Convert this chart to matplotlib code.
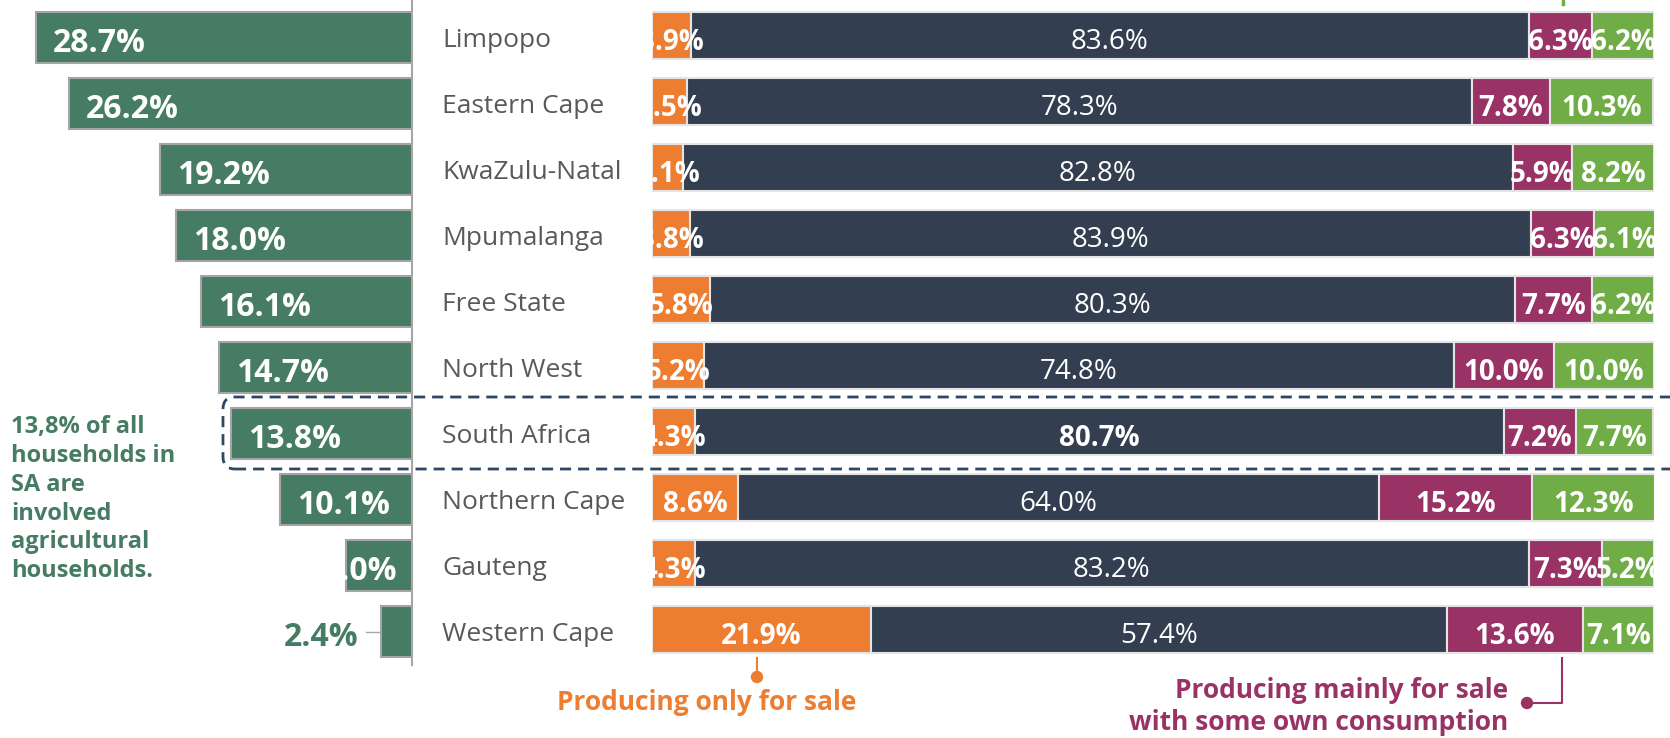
import matplotlib.pyplot as plt
import numpy as np
from matplotlib.patches import FancyBboxPatch, Circle
from matplotlib.lines import Line2D

plt.rcParams["font.family"] = ["Open Sans", "DejaVu Sans"]

provinces = ["Limpopo", "Eastern Cape", "KwaZulu-Natal", "Mpumalanga", "Free State",
             "North West", "South Africa", "Northern Cape", "Gauteng", "Western Cape"]
agri_share = [28.7, 26.2, 19.2, 18.0, 16.1, 14.7, 13.8, 10.1, 5.0, 2.4]
only_sale = [3.9, 3.5, 3.1, 3.8, 5.8, 5.2, 4.3, 8.6, 4.3, 21.9]
only_own = [83.6, 78.3, 82.8, 83.9, 80.3, 74.8, 80.7, 64.0, 83.2, 57.4]
mainly_sale = [6.3, 7.8, 5.9, 6.3, 7.7, 10.0, 7.2, 15.2, 7.3, 13.6]
mainly_own = [6.2, 10.3, 8.2, 6.1, 6.2, 10.0, 7.7, 12.3, 5.2, 7.1]
national = "South Africa"

GREEN_DK = "#477C64"
ORANGE = "#ED7D31"
NAVY = "#333F50"
MAGENTA = "#993366"
GREEN = "#70AD47"
TEXT_GREY = "#595959"
BOX_LINE = "#2E4662"

W, H = 1670, 738
ROW = 66.0  # row pitch in pixels
fig = plt.figure(figsize=(W / 100, H / 100), dpi=100)


def px_box(x0, y0, x1, y1):
    # pixel rectangle measured from the top-left corner -> figure fraction
    return [x0 / W, 1 - y1 / H, (x1 - x0) / W, (y1 - y0) / H]


def fx(px):
    return px / W


def fy(py):
    return 1 - py / H


ax_l = fig.add_axes(px_box(0, 0, 412, 664.5))
ax_r = fig.add_axes(px_box(652, -2, 1654, 662.5))
rows = np.arange(len(provinces))
ylim = (9.5, -0.5 - 4.5 / ROW)

# left panel: share of households involved in agriculture
ax_l.barh(rows, agri_share, height=0.773, color=GREEN_DK, edgecolor="#A5A5A5", linewidth=1.5)
ax_l.set_xlim(412 / 13.1, 0)
ax_l.set_ylim(*ylim)
dy_l = 2.5 / ROW
for i, v in enumerate(agri_share):
    label = f"{v:.1f}%"
    if v < 3:
        ax_l.text(4.12, i + dy_l, label, ha="right", va="center_baseline", color=GREEN_DK,
                  fontsize=23, fontweight="bold")
        ax_l.plot([2.55, 3.5], [i, i], color="#A6A6A6", lw=1)
    elif v < 8:
        ax_l.text(1.15, i + dy_l, label, ha="right", va="center_baseline", color="white",
                  fontsize=23, fontweight="bold")
    else:
        ax_l.text(v - 1.3, i + dy_l, label, ha="left", va="center_baseline", color="white",
                  fontsize=23, fontweight="bold")
for s in ["left", "top", "bottom"]:
    ax_l.spines[s].set_visible(False)
ax_l.spines["right"].set_color("#A6A6A6")
ax_l.spines["right"].set_linewidth(1.5)
ax_l.set_xticks([])
ax_l.set_yticks([])
ax_l.patch.set_alpha(0)

for i, name in enumerate(provinces):
    ax_l.text(-(442 - 412) / 13.1, i, name, ha="left", va="center_baseline", color=TEXT_GREY,
              fontsize=19, clip_on=False)

# right panel: production purpose, stacked to 100%
series = [only_sale, only_own, mainly_sale, mainly_own]
colors = [ORANGE, NAVY, MAGENTA, GREEN]
left = np.zeros(len(provinces))
dy_r = 3.0 / ROW
for k, (vals, c) in enumerate(zip(series, colors)):
    vals = np.array(vals)
    ax_r.barh(rows, vals, left=left, height=0.727, color=c, edgecolor="#E4E4E4", linewidth=1.5)
    for i, v in enumerate(vals):
        bold = k != 1 or provinces[i] == national
        ax_r.text(left[i] + v / 2, i + dy_r, f"{v:.1f}%", ha="center", va="center_baseline",
                  color="white", fontsize=20, fontweight="bold" if bold else "normal")
    left += vals
ax_r.set_xlim(0, 100)
ax_r.set_ylim(*ylim)
ax_r.axis("off")

# dashed outline around the national row
box = FancyBboxPatch((2.23, (H - 469) / 100), 17.0, 0.72,
                     boxstyle="round,pad=0,rounding_size=0.12",
                     transform=fig.dpi_scale_trans, fill=False, edgecolor=BOX_LINE,
                     linewidth=2, linestyle=(0, (4, 2.5)))
fig.add_artist(box)

fig.text(fx(11), fy(415),
         "13,8% of all\nhouseholds in\nSA are\ninvolved\nagricultural\nhouseholds.",
         ha="left", va="top", color=GREEN_DK, fontsize=17, fontweight="bold",
         linespacing=1.27)

# callouts below the chart
fig.add_artist(Line2D([fx(757), fx(757)], [fy(658), fy(677)], color=ORANGE, lw=1.5))
fig.add_artist(Circle((7.57, (H - 677) / 100), 0.055, transform=fig.dpi_scale_trans,
                      color=ORANGE))
fig.text(fx(707), fy(703), "Producing only for sale", ha="center", va="center",
         color=ORANGE, fontsize=19, fontweight="bold")

fig.add_artist(Line2D([fx(1562), fx(1562), fx(1527)], [fy(658), fy(703), fy(703)],
                      color=MAGENTA, lw=1.5))
fig.add_artist(Circle((15.27, (H - 703) / 100), 0.055, transform=fig.dpi_scale_trans,
                      color=MAGENTA))
fig.text(fx(1508), fy(690), "Producing mainly for sale", ha="right", va="center",
         color=MAGENTA, fontsize=19, fontweight="bold")
fig.text(fx(1508), fy(722), "with some own consumption", ha="right", va="center",
         color=MAGENTA, fontsize=19, fontweight="bold")

fig.add_artist(Line2D([fx(1563), fx(1563)], [fy(0), fy(4)], color=GREEN, lw=2.5))

fig.savefig("out.png", dpi=100)
